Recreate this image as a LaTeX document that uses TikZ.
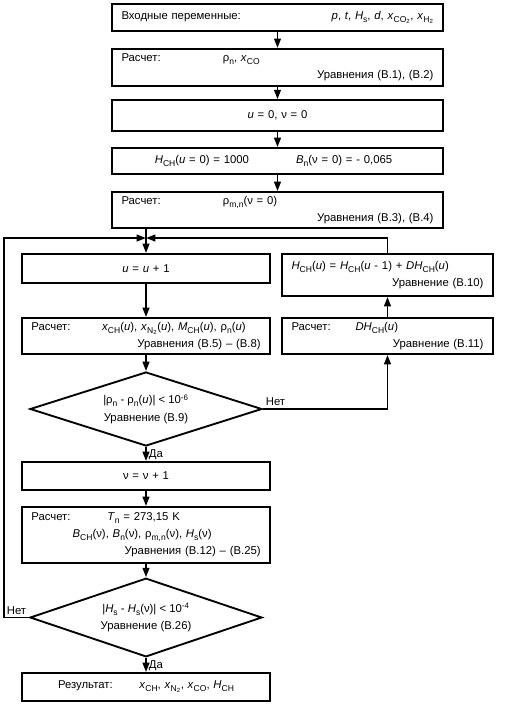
\documentclass[tikz,border=0pt]{standalone}
\usepackage{fontspec}
\setmainfont{Liberation Sans}
\usetikzlibrary{shapes.geometric,arrows.meta}
\newcommand{\dn}[1]{\raisebox{-0.45ex}{\fontsize{6.4}{7}\selectfont #1}}
\newcommand{\vsub}[2]{\textit{#1}\dn{#2}}
\newcommand{\leadbox}[2]{\makebox[#1][l]{#2}}
\tikzset{
	box/.style	= {rectangle, draw, line width=1.4pt, inner xsep=7pt, inner ysep=0pt, align=left},
	wide/.style	= {box, text width=234pt},
	col/.style	= {box, text width=172pt},
	side/.style	= {box, text width=144pt},
	decision/.style	= {diamond, draw, line width=1.4pt, inner sep=0pt, aspect=3.1, minimum width=174pt, minimum height=55.5pt, align=center},
	flow/.style	= {line width=1.4pt, -{Triangle[length=7pt,width=5pt]}},
	tag/.style	= {inner sep=2pt}
}
\begin{document}
\begin{tikzpicture}[x=0.75pt, y=-0.75pt, every node/.style={font=\fontsize{8.5}{12.8}\selectfont}]
	\useasboundingbox (0,0) rectangle (507,704);
	\node (B1) at (277.5,  17.5)	[wide, minimum height=20pt]	{Входные переменные:\hfill \textit{p}, \textit{t}, \vsub{H}{s}, \textit{d}, \vsub{x}{CO\textsubscript{2}}, \vsub{x}{H\textsubscript{2}}\hspace*{10pt}};
	\node (B2) at (277.5,  67.5)	[wide, minimum height=28pt]	{\leadbox{76pt}{Расчет:}ρ\dn{n}, \vsub{x}{CO}\\ \hfill Уравнения (В.1), (В.2)};
	\node (B3) at (277.5, 115.5)	[wide, minimum height=23pt, align=center]	{\textit{u} = 0, ν = 0};
	\node (B4) at (277.5, 161)	[wide, minimum height=19.5pt]	{\hspace*{25pt}\leadbox{106pt}{\vsub{H}{CH}(\textit{u} = 0) = 1000}\vsub{B}{n}(ν = 0) = - 0,065};
	\node (B5) at (277.5, 210)	[wide, minimum height=27pt]	{\leadbox{76pt}{Расчет:}ρ\dn{m,n}(ν = 0)\\ \hfill Уравнения (В.3), (В.4)};
	\node (U)  at (146,   268.5)	[col, minimum height=21.75pt, align=center]	{\textit{u} = \textit{u} + 1};
	\node (H)  at (387.5, 275)	[side, minimum height=31.5pt]	{\vsub{H}{CH}(\textit{u}) = \vsub{H}{CH}(\textit{u} - 1) + \textit{D}\vsub{H}{CH}(\textit{u})\\ \hfill Уравнение (В.10)};
	\node (X)  at (146,   336)	[col, minimum height=27pt]	{\leadbox{53pt}{Расчет:}\vsub{x}{CH}(\textit{u}), \vsub{x}{N\textsubscript{2}}(\textit{u}), \vsub{M}{CH}(\textit{u}), ρ\dn{n}(\textit{u})\\ \hfill Уравнения (В.5) – (В.8)};
	\node (DH) at (387.5, 336)	[side, minimum height=27pt]	{\leadbox{48pt}{Расчет:}\textit{D}\vsub{H}{CH}(\textit{u})\\ \hfill Уравнение (В.11)};
	\node (D1) at (146,   409)	[decision]	{|ρ\dn{n} - ρ\dn{n}(\textit{u})| < 10\textsuperscript{-6}\\ Уравнение (В.9)};
	\node (V)  at (146,   476)	[col, minimum height=21pt, align=center]	{ν = ν + 1};
	\node (T)  at (146,   535)	[col, minimum height=42pt]	{\leadbox{57pt}{Расчет:}\vsub{T}{n} = 273,15 K\\ \hspace*{31pt}\vsub{B}{CH}(ν), \vsub{B}{n}(ν), ρ\dn{m,n}(ν), \vsub{H}{s}(ν)\\ \hfill Уравнения (В.12) – (В.25)};
	\node (D2) at (146,   617.5)	[decision, aspect=2.9, minimum height=59pt]	{|\vsub{H}{s} - \vsub{H}{s}(ν)| < 10\textsuperscript{-4}\\ Уравнение (В.26)};
	\node (R)  at (146,   687)	[col, minimum height=21pt, align=center]	{Результат:\hspace{20pt}\vsub{x}{CH}, \vsub{x}{N\textsubscript{2}}, \vsub{x}{CO}, \vsub{H}{CH}};
	\node (no1)  at (D1.east)	[tag, anchor=south west]	{Нет};
	\node (no2)  at (D2.west)	[tag, anchor=south east]	{Нет};
	\node (yes1) at (D1.south)	[tag, anchor=north west]	{Да};
	\node (yes2) at (D2.south)	[tag, anchor=north west]	{Да};
	\coordinate (J)   at (146, 238);
	\coordinate (Lft) at (4,   617.5);
	\draw[flow] (B1) -- (B2);
	\draw[flow] (B2) -- (B3);
	\draw[flow] (B3) -- (B4);
	\draw[flow] (B4) -- (B5);
	\draw[flow] (B5.south -| U.north) -- (U.north);
	\draw[flow] (H.north) |- (J);
	\draw[flow] (D2.west) -- (Lft) |- (J);
	\draw[flow] (U) -- (X);
	\draw[flow] (X) -- (D1);
	\draw[flow] (D1.east) -| (DH.south);
	\draw[flow] (DH) -- (H);
	\draw[flow] (D1) -- (V);
	\draw[flow] (V) -- (T);
	\draw[flow] (T) -- (D2);
	\draw[flow] (D2) -- (R);
\end{tikzpicture}
\end{document}
